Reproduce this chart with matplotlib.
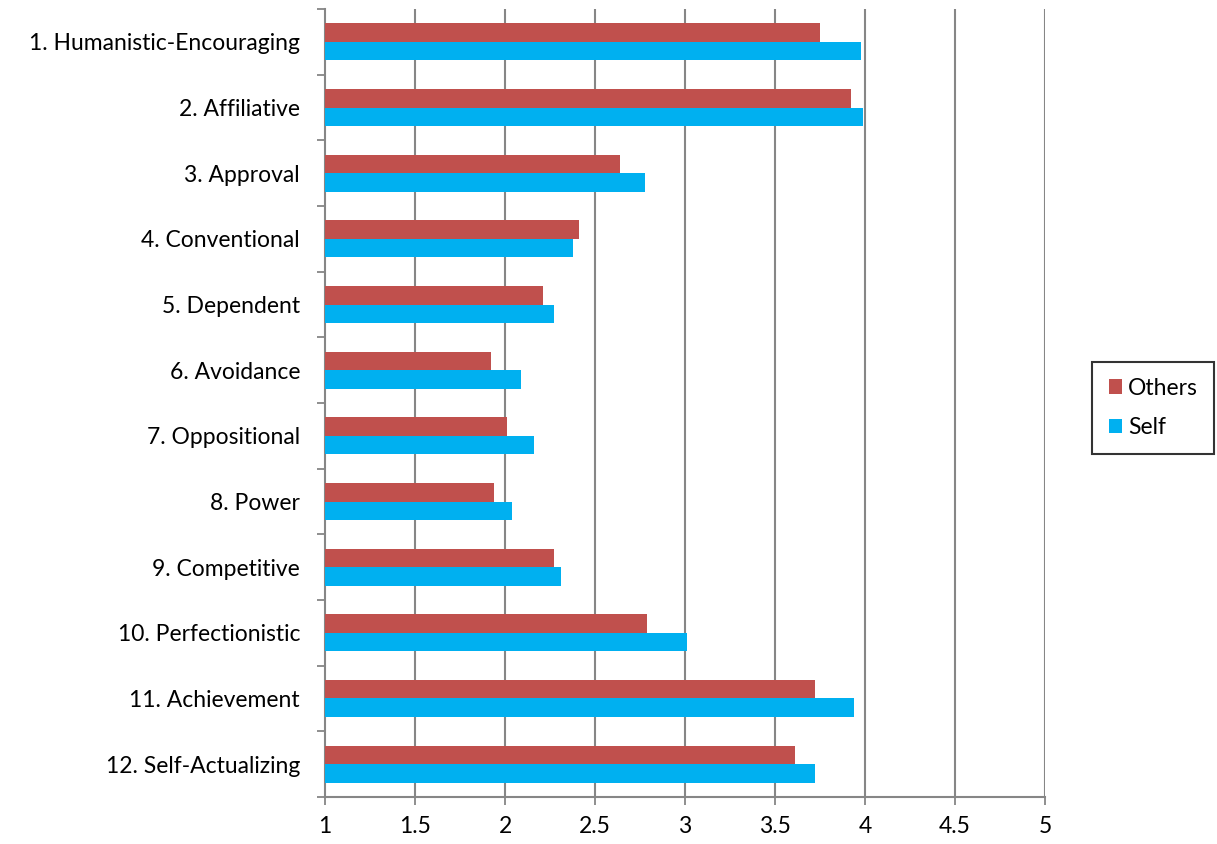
import matplotlib
matplotlib.use("Agg")
import matplotlib.pyplot as plt
import numpy as np

plt.rcParams['font.family'] = ['Lato', 'DejaVu Sans']

categories = [
    "1. Humanistic-Encouraging", "2. Affiliative", "3. Approval",
    "4. Conventional", "5. Dependent", "6. Avoidance", "7. Oppositional",
    "8. Power", "9. Competitive", "10. Perfectionistic", "11. Achievement",
    "12. Self-Actualizing",
]
others = [3.75, 3.92, 2.64, 2.41, 2.21, 1.92, 2.01, 1.94, 2.27, 2.79, 3.72, 3.61]
self_vals = [3.98, 3.99, 2.78, 2.38, 2.27, 2.09, 2.16, 2.04, 2.31, 3.01, 3.94, 3.72]
xticks = [1, 1.5, 2, 2.5, 3, 3.5, 4, 4.5, 5]

fig = plt.figure(figsize=(12.17, 8.44), dpi=100)
ax = fig.add_axes([325 / 1217, 1 - 797 / 844, 720 / 1217, 788 / 844])

n = len(categories)
y = np.arange(n)
h = 0.28
base = 1
ax.barh(y - h / 2, np.array(others) - base, left=base, height=h,
        color="#C0504D", label="Others", zorder=3)
ax.barh(y + h / 2, np.array(self_vals) - base, left=base, height=h,
        color="#00B0F0", label="Self", zorder=3)

ax.set_xlim(1, 5)
ax.set_ylim(n - 0.5, -0.5)
ax.set_xticks(xticks)
ax.set_xticklabels([f"{t:g}" for t in xticks], fontsize=16.5)
ax.set_yticks(y)
ax.set_yticklabels(categories, fontsize=16.5)
ax.tick_params(axis="y", length=0, pad=18)
ax.set_yticks(np.arange(n + 1) - 0.5, minor=True)
ax.tick_params(axis="y", which="minor", length=6, color="#868686", width=1.3)
ax.tick_params(axis="x", length=6, color="#868686", width=1.3, pad=8)

for xv in xticks[1:]:
    ax.axvline(xv, color="#868686", lw=1.5, zorder=1)

for s in ["top", "right"]:
    ax.spines[s].set_visible(False)
for s in ["left", "bottom"]:
    ax.spines[s].set_color("#868686")
    ax.spines[s].set_linewidth(1.5)

leg = ax.legend(loc="center left", bbox_to_anchor=(1081 / 1217, 1 - 408 / 844),
                bbox_transform=fig.transFigure, fontsize=16.5, frameon=True,
                fancybox=False, edgecolor="black", handlelength=0.6,
                handleheight=0.6, handletextpad=0.25, labelspacing=0.8,
                borderpad=0.7)
leg.get_frame().set_linewidth(1.5)

fig.savefig("out.png", dpi=100)
